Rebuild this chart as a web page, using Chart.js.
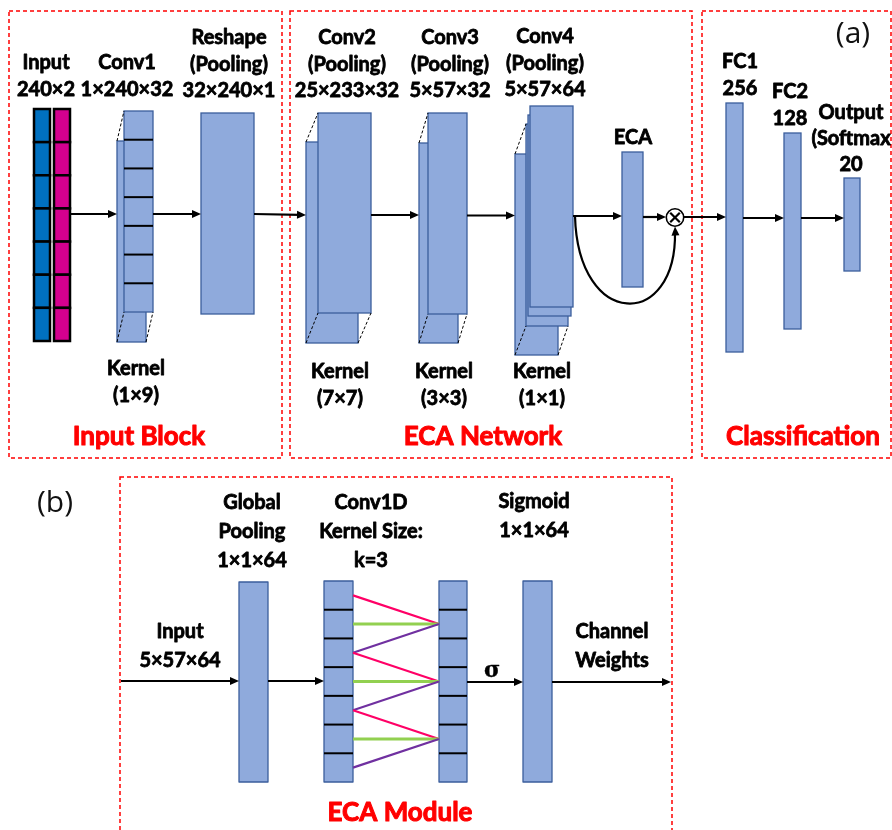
<!DOCTYPE html>
<html>
<head>
<meta charset="utf-8">
<script src="https://cdn.jsdelivr.net/npm/chart.js@4.4.1/dist/chart.umd.min.js"></script>
<style>
  html, body { margin: 0; padding: 0; background: #ffffff; }
  #wrap { width: 892px; height: 830px; }
</style>
</head>
<body>
<div id="wrap"><canvas id="diagram" width="892" height="830"></canvas></div>
<script>
// ---- Text content of the network diagram ----
const panelTitles = ['Input Block', 'ECA Network', 'Classification', 'ECA Module'];
const panelTags = ['(a)', '(b)'];
const layerLabels = [
  ['Input', '240×2'],
  ['Conv1', '1×240×32'],
  ['Reshape', '(Pooling)', '32×240×1'],
  ['Conv2', '(Pooling)', '25×233×32'],
  ['Conv3', '(Pooling)', '5×57×32'],
  ['Conv4', '(Pooling)', '5×57×64'],
  ['ECA'],
  ['FC1', '256'],
  ['FC2', '128'],
  ['Output', '(Softmax', '20']
];
const kernelLabels = [['Kernel', '(1×9)'], ['Kernel', '(7×7)'], ['Kernel', '(3×3)'], ['Kernel', '(1×1)']];
const moduleLabels = [['Global', 'Pooling', '1×1×64'], ['Conv1D', 'Kernel Size:', 'k=3'], ['Sigmoid', '1×1×64']];
const moduleSideLabels = [['Input', '5×57×64'], ['Channel', 'Weights']];
const sigmaLabel = 'σ';
const inputCells = 7;      // segments drawn in the input / Conv1 / Conv1D columns
const eca1dKernel = 3;     // k of the 1-D convolution

// ---- Diagram layout, in axis units ----
const layout = {
  panels: [[9, 11, 282, 458], [290, 11, 692, 458], [702, 11, 891, 458], [120, 477, 672, 840]],
  panelTitlePos: [[139, 437], [483, 437], [803, 437], [400, 813]],
  tagPos: [[853, 34], [55, 503]],
  labelPos: [[46, 63], [127, 63], [229, 38], [347, 38], [450, 38], [545, 37], [633, 138], [740, 62], [790, 92], [851, 113]],
  kernelPos: [[136, 369], [340, 372], [444, 372], [542, 372]],
  inputCols: [[34, 109, 50, 341], [54, 109, 70, 341]],
  stacks: [
    [[117, 141, 146, 342], [124, 111, 153, 312]],
    [[306, 142, 358, 343], [318, 113, 371, 313]],
    [[419, 143, 458, 343], [428, 113, 467, 314]],
    [[515, 154, 558, 355], [526, 124, 568, 326], [528, 115, 571, 316], [530, 106, 573, 307]]
  ],
  plain: [[201, 113, 254, 314], [622, 152, 643, 287], [726, 103, 743, 352], [784, 133, 801, 329], [844, 178, 860, 271]],
  arrows: [
    [70, 214, 117, 214], [153, 214, 201, 214], [254, 214, 306, 215], [371, 215, 419, 215],
    [467, 215.5, 515, 215.5], [573, 216, 622, 216], [643, 217, 666, 217], [684, 217, 726, 217],
    [743, 218, 784, 218], [801, 218, 844, 218]
  ],
  multiply: [675, 217.5, 8.7],
  skip: [[575, 216], [578, 330], [677, 330], [675, 226.5]],
  modBoxes: [[239, 582, 268, 782], [324, 581, 353, 782], [439, 581, 467, 782], [523, 581, 552, 782]],
  modLabelPos: [[252, 503], [371, 503], [534, 502]],
  modSidePos: [[180, 632], [612, 632]],
  modArrows: [[121, 681, 239, 681], [268, 681, 324, 681], [467, 682, 523, 682], [552, 682, 671, 682]],
  sigmaPos: [492, 671]
};

const COL = {
  box: '#8FAADC', edge: '#3B5E9C', red: '#FF0000', ink: '#000000',
  blue: '#0070C0', magenta: '#D5008F', pink: '#FF0066', green: '#92D050', purple: '#7030A0'
};
const FONT = 'Lato, "Open Sans", sans-serif';

const diagramPlugin = {
  id: 'ecaDiagram',
  afterDraw(chart) {
    const ctx = chart.ctx;
    const sx = chart.scales.x, sy = chart.scales.y;
    const X = v => sx.getPixelForValue(v);
    const Y = v => sy.getPixelForValue(v);

    const rect = (r, fill, stroke, lw) => {
      const x0 = X(r[0]), y0 = Y(r[1]), x1 = X(r[2]), y1 = Y(r[3]);
      ctx.fillStyle = fill;
      ctx.fillRect(x0, y0, x1 - x0, y1 - y0);
      if (stroke) {
        ctx.strokeStyle = stroke; ctx.lineWidth = lw; ctx.setLineDash([]);
        ctx.strokeRect(x0, y0, x1 - x0, y1 - y0);
      }
    };
    const line = (a, b, color, lw, dash) => {
      ctx.beginPath();
      ctx.setLineDash(dash || []);
      ctx.strokeStyle = color; ctx.lineWidth = lw;
      ctx.moveTo(X(a[0]), Y(a[1])); ctx.lineTo(X(b[0]), Y(b[1]));
      ctx.stroke();
      ctx.setLineDash([]);
    };
    const head = (tx, ty, ang) => {
      const L = 9, W = 4;
      ctx.beginPath();
      ctx.fillStyle = COL.ink;
      ctx.moveTo(tx, ty);
      ctx.lineTo(tx - L * Math.cos(ang) + W * Math.sin(ang), ty - L * Math.sin(ang) - W * Math.cos(ang));
      ctx.lineTo(tx - L * Math.cos(ang) - W * Math.sin(ang), ty - L * Math.sin(ang) + W * Math.cos(ang));
      ctx.closePath();
      ctx.fill();
    };
    const arrow = a => {
      const ang = Math.atan2(Y(a[3]) - Y(a[1]), X(a[2]) - X(a[0]));
      const ex = X(a[2]) - 6 * Math.cos(ang), ey = Y(a[3]) - 6 * Math.sin(ang);
      ctx.beginPath(); ctx.setLineDash([]);
      ctx.strokeStyle = COL.ink; ctx.lineWidth = 2.2;
      ctx.moveTo(X(a[0]), Y(a[1])); ctx.lineTo(ex, ey); ctx.stroke();
      head(X(a[2]), Y(a[3]), ang);
    };
    // heavy label text: bold face plus a thin outline in the same colour
    const text = (str, x, y, size, color, weight, family, outline) => {
      ctx.font = (weight || 'bold') + ' ' + size + 'px ' + (family || FONT);
      ctx.fillStyle = color || COL.ink;
      ctx.textAlign = 'center'; ctx.textBaseline = 'middle';
      ctx.fillText(str, X(x), Y(y));
      const ow = outline === undefined ? 0.8 : outline;
      if (ow > 0) {
        ctx.strokeStyle = color || COL.ink; ctx.lineWidth = ow; ctx.lineJoin = 'round'; ctx.setLineDash([]);
        ctx.strokeText(str, X(x), Y(y));
      }
    };
    const lines = (arr, pos, gap) => arr.forEach((s, i) => text(s, pos[0], pos[1] + i * gap, 20));
    const cellLines = (r, n, lw) => {
      const h = (r[3] - r[1]) / n;
      for (let k = 1; k < n; k++) line([r[0], r[1] + k * h], [r[2], r[1] + k * h], COL.ink, lw);
    };
    const cellMid = (r, k, n) => r[1] + (k + 0.5) * (r[3] - r[1]) / n;

    ctx.save();

    // dashed panel frames
    layout.panels.forEach(p => {
      ctx.beginPath(); ctx.setLineDash([4, 3]);
      ctx.strokeStyle = COL.red; ctx.lineWidth = 1.5;
      ctx.strokeRect(X(p[0]), Y(p[1]), X(p[2]) - X(p[0]), Y(p[3]) - Y(p[1]));
      ctx.setLineDash([]);
    });

    // two-channel input sequence
    layout.inputCols.forEach((c, ci) => {
      const h = (c[3] - c[1]) / inputCells;
      for (let k = 0; k < inputCells; k++) {
        rect([c[0], c[1] + k * h, c[2], c[1] + (k + 1) * h], ci === 0 ? COL.blue : COL.magenta, COL.ink, 2.5);
      }
    });

    // stacked feature maps with perspective edges
    layout.stacks.forEach((st, si) => {
      const back = st[0], next = st[1];
      st.forEach(r => rect(r, COL.box, COL.edge, 1.3));
      line([back[0], back[1]], [next[0], next[1]], COL.ink, 1, [3, 2]);
      line([back[0], back[3]], [next[0], next[3]], COL.ink, 1, [3, 2]);
      line([back[2], back[3]], [next[2], next[3]], COL.ink, 1, [3, 2]);
      if (si === 0) cellLines(st[st.length - 1], inputCells, 2);
    });

    layout.plain.forEach(r => rect(r, COL.box, COL.edge, 1.3));

    // flow arrows
    layout.arrows.forEach(arrow);

    // skip connection into the channel-wise product
    const s = layout.skip;
    ctx.beginPath(); ctx.strokeStyle = COL.ink; ctx.lineWidth = 2.2;
    ctx.moveTo(X(s[0][0]), Y(s[0][1]));
    ctx.bezierCurveTo(X(s[1][0]), Y(s[1][1]), X(s[2][0]), Y(s[2][1]), X(s[3][0]), Y(s[3][1]) + 5);
    ctx.stroke();
    head(X(s[3][0]), Y(s[3][1]), -Math.PI / 2 - 0.05);

    const m = layout.multiply;
    ctx.beginPath(); ctx.fillStyle = '#ffffff'; ctx.strokeStyle = COL.ink; ctx.lineWidth = 1.6;
    ctx.arc(X(m[0]), Y(m[1]), m[2], 0, Math.PI * 2); ctx.fill(); ctx.stroke();
    const d = m[2] * 0.55;
    line([m[0] - d, m[1] - d], [m[0] + d, m[1] + d], COL.ink, 2.2);
    line([m[0] - d, m[1] + d], [m[0] + d, m[1] - d], COL.ink, 2.2);

    // labels of panel (a)
    layerLabels.forEach((arr, i) => lines(arr, layout.labelPos[i], i === 9 ? 26 : 26.5));
    kernelLabels.forEach((arr, i) => lines(arr, layout.kernelPos[i], 27));

    // ECA module (b)
    const mb = layout.modBoxes;
    mb.forEach(r => rect(r, COL.box, COL.edge, 1.3));
    cellLines(mb[1], inputCells, 2);
    cellLines(mb[2], inputCells, 2);
    const A = mb[1], B = mb[2];
    const half = (eca1dKernel - 1) / 2;
    const tint = [COL.pink, COL.green, COL.purple];
    for (let out = 1; out < inputCells - 1; out += 2) {
      for (let j = 0; j < eca1dKernel; j++) {
        const src = out - half + j;
        line([A[2], cellMid(A, src, inputCells)], [B[0], cellMid(B, out, inputCells)], tint[j], j === 1 ? 3 : 2.2);
      }
    }
    layout.modArrows.forEach(arrow);
    moduleLabels.forEach((arr, i) => lines(arr, layout.modLabelPos[i], 29));
    moduleSideLabels.forEach((arr, i) => lines(arr, layout.modSidePos[i], 29));
    text(sigmaLabel, layout.sigmaPos[0], layout.sigmaPos[1], 22, COL.ink, 'bold', '"DejaVu Serif", serif', 0.4);

    // panel titles and tags
    panelTitles.forEach((t, i) => text(t, layout.panelTitlePos[i][0], layout.panelTitlePos[i][1], 26, COL.red, 'bold', FONT, 1));
    panelTags.forEach((t, i) => text(t, layout.tagPos[i][0], layout.tagPos[i][1], 30, '#111111', 'normal', '"Open Sans", Lato, sans-serif', 0));

    ctx.restore();
  }
};

new Chart(document.getElementById('diagram'), {
  type: 'scatter',
  data: { datasets: [{ data: [], pointRadius: 0 }] },
  options: {
    responsive: false,
    devicePixelRatio: 1,
    animation: false,
    layout: { padding: 0 },
    plugins: { legend: { display: false }, tooltip: { enabled: false } },
    scales: {
      x: { type: 'linear', min: 0, max: 892, display: false },
      y: { type: 'linear', min: 0, max: 830, reverse: true, display: false }
    }
  },
  plugins: [diagramPlugin]
});
</script>
</body>
</html>
